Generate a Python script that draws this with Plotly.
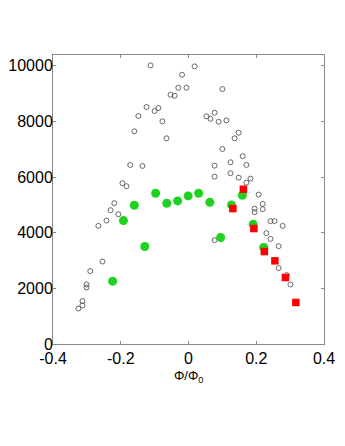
import plotly.graph_objects as go

# Open circles (background data)
open_x = [-0.112, 0.018, -0.019, -0.030, -0.006, -0.053, -0.041, 0.100, -0.124, -0.100,
          -0.089, -0.148, -0.077, 0.053, 0.065, 0.077, 0.089, 0.112, -0.160, -0.065,
          0.148, 0.136, 0.100, 0.160, -0.172, -0.136, 0.077, 0.124, 0.171, 0.077,
          0.124, 0.148, 0.183, 0.171, -0.195, -0.183, 0.207, -0.219, -0.230, -0.207,
          -0.242, -0.266, -0.254, -0.290, -0.301, -0.301, -0.313, -0.313, -0.325, 0.219,
          0.219, 0.195, 0.195, 0.242, 0.254, 0.278, 0.230, 0.242, 0.266, 0.266,
          0.290, 0.301, 0.077]
open_y = [10016, 9980, 9680, 9212, 9212, 8960, 8925, 9165, 8519, 8375,
          8483, 8196, 8006, 8185, 8099, 8314, 7991, 8041, 7647, 7395,
          7596, 7395, 7011, 6749, 6437, 6401, 6412, 6534, 6437, 6017,
          6139, 5981, 5945, 5801, 5780, 5672, 5371, 5062, 4811, 4667,
          4437, 4247, 2965, 2621, 2140, 2032, 1544, 1386, 1278, 5037,
          4846, 4868, 4739, 4416, 4416, 4247, 3985, 3780, 3518, 2728,
          2477, 2140, 3734]

# Green circles
green_x = [-0.224, -0.192, -0.160, -0.129, -0.097, -0.064, -0.032, -0.001, 0.030, 0.063,
           0.095, 0.127, 0.159, 0.191, 0.222]
green_y = [2260, 4437, 4990, 3504, 5421, 5062, 5144, 5324, 5421, 5098,
           3827, 5001, 5349, 4308, 3468]

# Red squares
red_x = [0.162, 0.131, 0.193, 0.224, 0.255, 0.286, 0.317]
red_y = [5564, 4868, 4150, 3324, 2990, 2391, 1493]

x_ticks = [-0.4, -0.2, 0, 0.2, 0.4]
x_tick_labels = ["-0.4", "-0.2", "0", "0.2", "0.4"]
y_ticks = [0, 2000, 4000, 6000, 8000, 10000]
y_tick_labels = ["0", "2000", "4000", "6000", "8000", "10000"]

fig = go.Figure()
fig.add_trace(go.Scatter(x=open_x, y=open_y, mode="markers",
                         marker=dict(symbol="circle-open", size=5, color="#444444",
                                     line=dict(width=0.8, color="#444444")),
                         showlegend=False))
fig.add_trace(go.Scatter(x=green_x, y=green_y, mode="markers",
                         marker=dict(symbol="circle", size=9, color="#1fd21f",
                                     line=dict(width=0)),
                         showlegend=False))
fig.add_trace(go.Scatter(x=red_x, y=red_y, mode="markers",
                         marker=dict(symbol="square", size=7.5, color="#ff0000",
                                     line=dict(width=0)),
                         showlegend=False))

axis_common = dict(showgrid=False, zeroline=False, showline=True, linecolor="#8a8a8a",
                   linewidth=1, mirror="ticks", ticks="inside", ticklen=3,
                   tickcolor="#8a8a8a", tickwidth=1, automargin=False,
                   tickfont=dict(family="Liberation Sans, Arial", size=16, color="black"))

fig.update_layout(
    width=329, height=430,
    margin=dict(l=45, r=13, t=47, b=94),
    paper_bgcolor="white", plot_bgcolor="white",
    xaxis=dict(range=[-0.4, 0.4], tickvals=x_ticks, ticktext=x_tick_labels, **axis_common),
    yaxis=dict(range=[0, 10390], tickvals=y_ticks, ticktext=y_tick_labels,
               ticklabelstandoff=-4, **axis_common),
    annotations=[dict(text="Φ/Φ<sub>0</sub>", x=0, xref="x", y=-0.113, yref="paper",
                      xanchor="center", yanchor="middle", showarrow=False,
                      font=dict(family="Liberation Sans, Arial", size=13, color="black"))],
)

fig.write_html("out.html")
